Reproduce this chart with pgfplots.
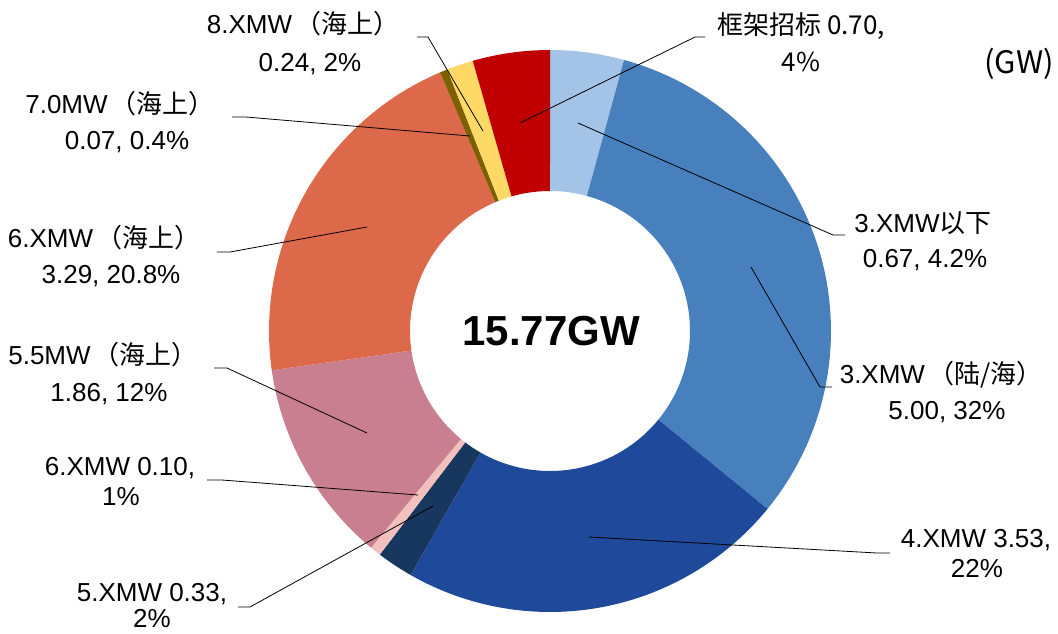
\documentclass[border=0pt]{standalone}
\usepackage{pgfplots}
\usepackage{pgfplotstable}
\pgfplotsset{compat=1.18}
\usepackage{fontspec}
\setmainfont{Liberation Sans}
\newfontfamily\cjk{Noto Sans CJK SC}
\newcommand\fp[1]{\hspace{3pt}{\cjk （#1）}}
\definecolor{s0}{HTML}{A3C3E7}
\definecolor{s1}{HTML}{4780BD}
\definecolor{s2}{HTML}{1F4A9C}
\definecolor{s3}{HTML}{17375E}
\definecolor{s4}{HTML}{F2C0BD}
\definecolor{s5}{HTML}{C97F8F}
\definecolor{s6}{HTML}{DB694A}
\definecolor{s7}{HTML}{7F6000}
\definecolor{s8}{HTML}{FFD966}
\definecolor{s9}{HTML}{C00000}
\pgfplotstableread{
name value
3XMWbelow 0.67
3XMW 5.00
4XMW 3.53
5XMW 0.33
6XMW 0.10
55MWoff 1.86
6XMWoff 3.29
70MWoff 0.07
8XMWoff 0.24
frame 0.70
}\ringdata
\begin{document}
\begin{tikzpicture}
\begin{axis}[scale only axis, width=1058pt, height=633pt,
  xmin=0, xmax=1058, ymin=0, ymax=633, y dir=reverse,
  hide axis, clip=false]
\draw[draw=none] (axis cs:0,0) rectangle (axis cs:1058,633);
\pgfplotstablegetrowsof{\ringdata}
\pgfmathtruncatemacro\nrows{\pgfplotsretval-1}
\def\total{0}
\pgfplotsforeachungrouped \i in {0,...,\nrows}{%
  \pgfplotstablegetelem{\i}{value}\of\ringdata
  \pgfmathsetmacro\total{\total+\pgfplotsretval}%
}
\def\cum{0}
\pgfplotsforeachungrouped \i in {0,...,\nrows}{%
  \pgfplotstablegetelem{\i}{value}\of\ringdata
  \pgfmathsetmacro\aA{-90+360*\cum/\total}%
  \pgfmathsetmacro\cum{\cum+\pgfplotsretval}%
  \pgfmathsetmacro\aB{-90+360*\cum/\total}%
  \pgfmathsetmacro\dA{\aB-\aA}%
  \edef\doplot{\noexpand\addplot[fill=s\i, draw=none,
     samples at={0,1,...,60,60.01,61,62,...,120}, variable=\noexpand\myt]
     ({550+ifthenelse(\noexpand\myt<60.005,281,140)*cos(\aA+\dA*min(\noexpand\myt,120-\noexpand\myt)/60)},
      {331+ifthenelse(\noexpand\myt<60.005,281,140)*sin(\aA+\dA*min(\noexpand\myt,120-\noexpand\myt)/60)});}%
  \doplot
}
% leader lines
\addplot[black, line width=0.8pt] coordinates {(417,37) (428,37) (483,131)};
\addplot[black, line width=0.8pt] coordinates {(705,37) (695,37) (520,123)};
\addplot[black, line width=0.8pt] coordinates {(232,117) (246,117) (470,136)};
\addplot[black, line width=0.8pt] coordinates {(217,252) (230,252) (367,227)};
\addplot[black, line width=0.8pt] coordinates {(214,368) (227,368) (367,433)};
\addplot[black, line width=0.8pt] coordinates {(207,480) (222,480) (418,495)};
\addplot[black, line width=0.8pt] coordinates {(238,607) (250,607) (433,506)};
\addplot[black, line width=0.8pt] coordinates {(845,235) (833,235) (578,123)};
\addplot[black, line width=0.8pt] coordinates {(832,387) (820,387) (751,267)};
\addplot[black, line width=0.8pt] coordinates {(890,553) (877,553) (589,537)};
% labels
\tikzset{lab/.style={anchor=base, inner sep=0pt, font=\fontsize{26}{30}\selectfont}}
\node[lab] at (axis cs:303,33) {8.XMW\fp{海上}};
\node[lab] at (axis cs:310,71) {0.24, 2\%};
\node[lab] at (axis cs:801,34) {\cjk 框架招标 0.70,};
\node[lab] at (axis cs:801,71) {\cjk 4\%};
\node[lab, font=\fontsize{31}{34}\selectfont] at (axis cs:1019,73) {\cjk (GW)};
\node[lab] at (axis cs:120,113) {7.0MW\fp{海上}};
\node[lab] at (axis cs:127,149) {0.07, 0.4\%};
\node[lab] at (axis cs:104,247) {6.XMW\fp{海上}};
\node[lab] at (axis cs:111,283) {3.29, 20.8\%};
\node[lab] at (axis cs:103,364) {5.5MW\fp{海上}};
\node[lab] at (axis cs:109,401) {1.86, 12\%};
\node[lab] at (axis cs:120,475) {6.XMW 0.10,};
\node[lab] at (axis cs:121,505) {1\%};
\node[lab] at (axis cs:152,601) {5.XMW 0.33,};
\node[lab] at (axis cs:152,627) {2\%};
\node[lab] at (axis cs:923,232) {3.XMW{\cjk 以下}};
\node[lab] at (axis cs:925,267) {0.67, 4.2\%};
\node[lab] at (axis cs:941,383) {3.XMW\fp{陆/海}};
\node[lab] at (axis cs:947,419) {5.00, 32\%};
\node[lab] at (axis cs:976,547) {4.XMW 3.53,};
\node[lab] at (axis cs:977,577) {22\%};
\node[font=\bfseries\fontsize{42}{46}\selectfont] at (axis cs:551,331) {15.77GW};
\end{axis}
\end{tikzpicture}
\end{document}
